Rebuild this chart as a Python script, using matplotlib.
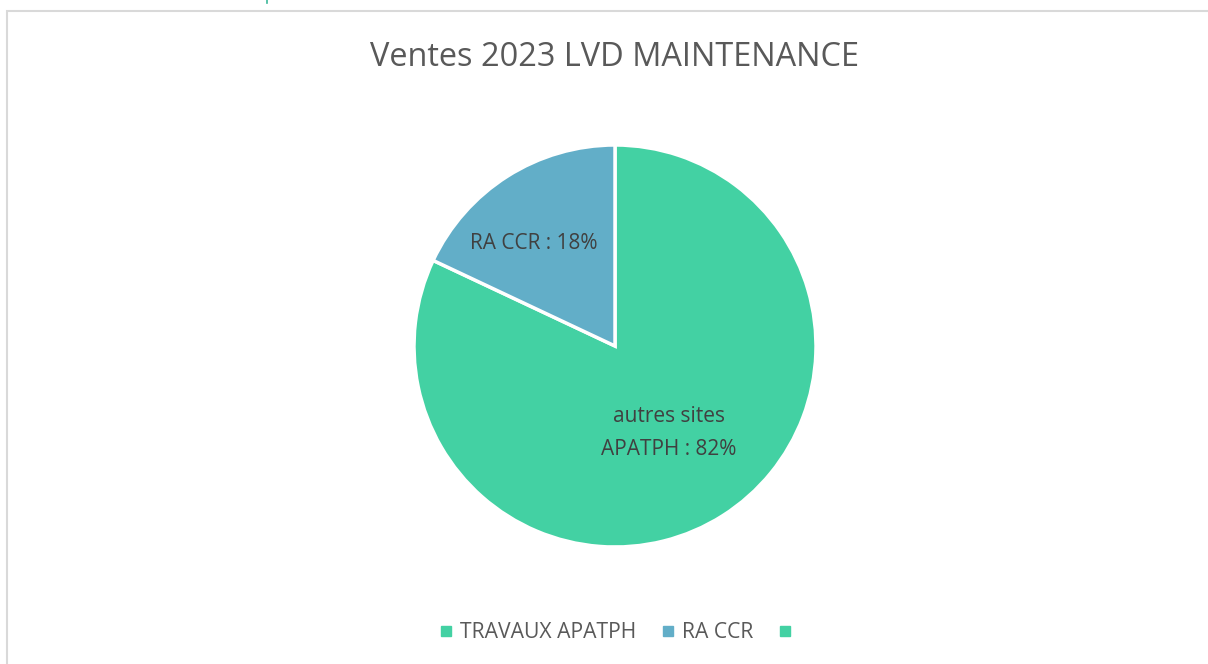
import matplotlib
matplotlib.use("Agg")
import matplotlib.pyplot as plt
from matplotlib.lines import Line2D
from matplotlib.patches import Rectangle
import numpy as np

plt.rcParams['font.family'] = ['Open Sans', 'DejaVu Sans']

title = "Ventes 2023 LVD MAINTENANCE"
slice_names = ["autres sites\nAPATPH", "RA CCR"]
slice_values = [82, 18]
slice_colors = ["#43D1A3", "#62AEC8"]
legend_labels = ["TRAVAUX APATPH", "RA CCR", ""]
legend_colors = ["#43D1A3", "#62AEC8", "#43D1A3"]

W, H = 1208, 664
fig = plt.figure(figsize=(W / 100, H / 100), dpi=100)

# chart border
fig.add_artist(Rectangle((7 / W, -0.1), 1.2, 1 - 11 / H + 0.1, transform=fig.transFigure,
                         fill=False, edgecolor="#D9D9D9", linewidth=1.5))
fig.add_artist(Line2D([267 / W, 267 / W], [1 - 3 / H, 1.0], transform=fig.transFigure,
                      color="#3CB89A", linewidth=1.2))

cx, cy, r = 615, 346, 201
ax = fig.add_axes([(cx - r) / W, (H - cy - r) / H, 2 * r / W, 2 * r / H])
wedges, _ = ax.pie(slice_values, colors=slice_colors, startangle=90, counterclock=False,
                   radius=1, wedgeprops=dict(edgecolor="white", linewidth=2.5))
ax.set_xlim(-1, 1)
ax.set_ylim(-1, 1)
ax.set_aspect("equal")
ax.axis("off")

# label anchor (distance from centre, angle shift from the wedge middle)
label_layout = [(0.51, -0.5), (0.65, 6.0)]
for w, name, val, (d, shift) in zip(wedges, slice_names, slice_values, label_layout):
    ang = np.deg2rad((w.theta1 + w.theta2) / 2 + shift)
    ax.text(d * np.cos(ang), d * np.sin(ang), f"{name} : {val}%", ha="center", va="center",
            fontsize=15, color="#404040", linespacing=1.72)

fig.text(615 / W, 1 - 57 / H, title, ha="center", va="center", fontsize=23.4, color="#595959")

handles = [Line2D([], [], marker="s", linestyle="none", markersize=7.5,
                  markerfacecolor=c, markeredgecolor=c) for c in legend_colors]
fig.legend(handles, legend_labels, loc="center", bbox_to_anchor=(617 / W, 1 - 633 / H),
           ncol=3, frameon=False, fontsize=15.2, labelcolor="#595959",
           handletextpad=0.15, columnspacing=1.0, handlelength=1.0)

fig.savefig("out.png", dpi=100)
